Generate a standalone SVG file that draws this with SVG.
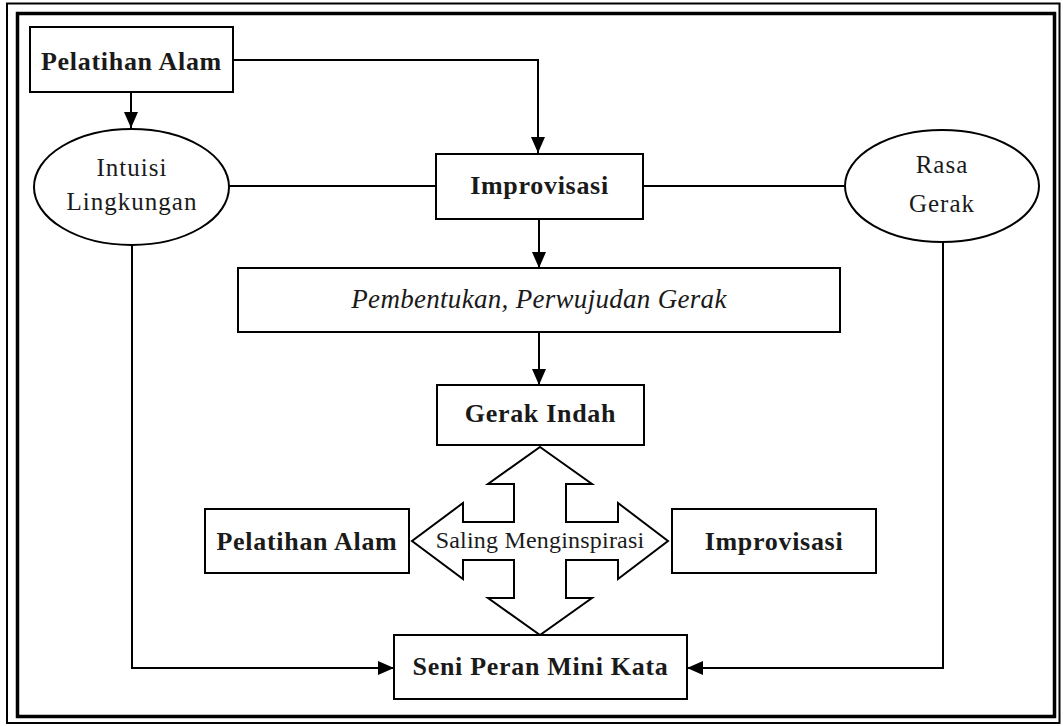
<svg xmlns="http://www.w3.org/2000/svg" width="1063" height="726" viewBox="0 0 1063 726">
<defs>
<marker id="ah" markerWidth="16" markerHeight="14" refX="16" refY="7" orient="auto" markerUnits="userSpaceOnUse">
<path d="M0,0 L16,7 L0,14 Z" fill="#000"/>
</marker>
<style>
.box{fill:#fff;stroke:#000;stroke-width:2}
.ln{fill:none;stroke:#000;stroke-width:2}
.t{font-family:"Liberation Serif",serif;font-size:25px;letter-spacing:1px;fill:#1a1a1a;text-anchor:middle}
.b{font-weight:bold;font-size:26px;letter-spacing:0.7px}
.i{font-style:italic;font-size:27px;letter-spacing:0.3px}
.s{font-size:24px;letter-spacing:0.2px}
</style>
</defs>
<rect x="0" y="0" width="1063" height="726" fill="#fff"/>
<rect x="7" y="3.5" width="1052.5" height="719.5" fill="none" stroke="#000" stroke-width="2"/>
<rect x="17.5" y="13.5" width="1037" height="703" fill="none" stroke="#000" stroke-width="3.5"/>
<g id="connectors">
<path class="ln" d="M131,92 V128" marker-end="url(#ah)"/>
<path class="ln" d="M233,60 H538 V153" marker-end="url(#ah)"/>
<path class="ln" d="M229,186 H436"/>
<path class="ln" d="M643,186 H845"/>
<path class="ln" d="M539,219 V268" marker-end="url(#ah)"/>
<path class="ln" d="M539,332 V385" marker-end="url(#ah)"/>
<path class="ln" d="M132,245 V668 H394" marker-end="url(#ah)"/>
<path class="ln" d="M943,242 V668 H687" marker-end="url(#ah)"/>
</g>
<g id="pelatihan-alam-top">
<rect class="box" x="30" y="27" width="203" height="65"/>
<text class="t b" x="131.5" y="70">Pelatihan Alam</text>
</g>
<g id="intuisi-lingkungan">
<ellipse class="box" cx="131.5" cy="187" rx="97.5" ry="58"/>
<text class="t" x="132" y="176">Intuisi</text>
<text class="t" x="132" y="210">Lingkungan</text>
</g>
<g id="improvisasi-top">
<rect class="box" x="436" y="154" width="207" height="65"/>
<text class="t b" x="539.5" y="194">Improvisasi</text>
</g>
<g id="rasa-gerak">
<ellipse class="box" cx="942" cy="186" rx="97" ry="56"/>
<text class="t" x="942" y="173">Rasa</text>
<text class="t" x="942" y="212">Gerak</text>
</g>
<g id="pembentukan">
<rect class="box" x="238" y="268" width="602" height="64"/>
<text class="t i" x="539" y="308">Pembentukan, Perwujudan Gerak</text>
</g>
<g id="gerak-indah">
<rect class="box" x="437" y="385" width="207" height="60"/>
<text class="t b" x="540.5" y="422">Gerak Indah</text>
</g>
<g id="saling-menginspirasi">
<polygon class="box" points="540,447 592,484 566,484 566,522 618,522 618,503 668,541 618,579 618,560 566,560 566,598 592,598 540,635 488,598 514,598 514,560 463,560 463,579 412,541 463,503 463,522 514,522 514,484 488,484"/>
<text class="t s" x="540" y="548">Saling Menginspirasi</text>
</g>
<g id="pelatihan-alam-bottom">
<rect class="box" x="205" y="509" width="204" height="64"/>
<text class="t b" x="307" y="550">Pelatihan Alam</text>
</g>
<g id="improvisasi-bottom">
<rect class="box" x="672" y="509" width="204" height="64"/>
<text class="t b" x="774" y="550">Improvisasi</text>
</g>
<g id="seni-peran">
<rect class="box" x="394" y="635" width="293" height="64"/>
<text class="t b" x="540.5" y="675">Seni Peran Mini Kata</text>
</g>
</svg>
